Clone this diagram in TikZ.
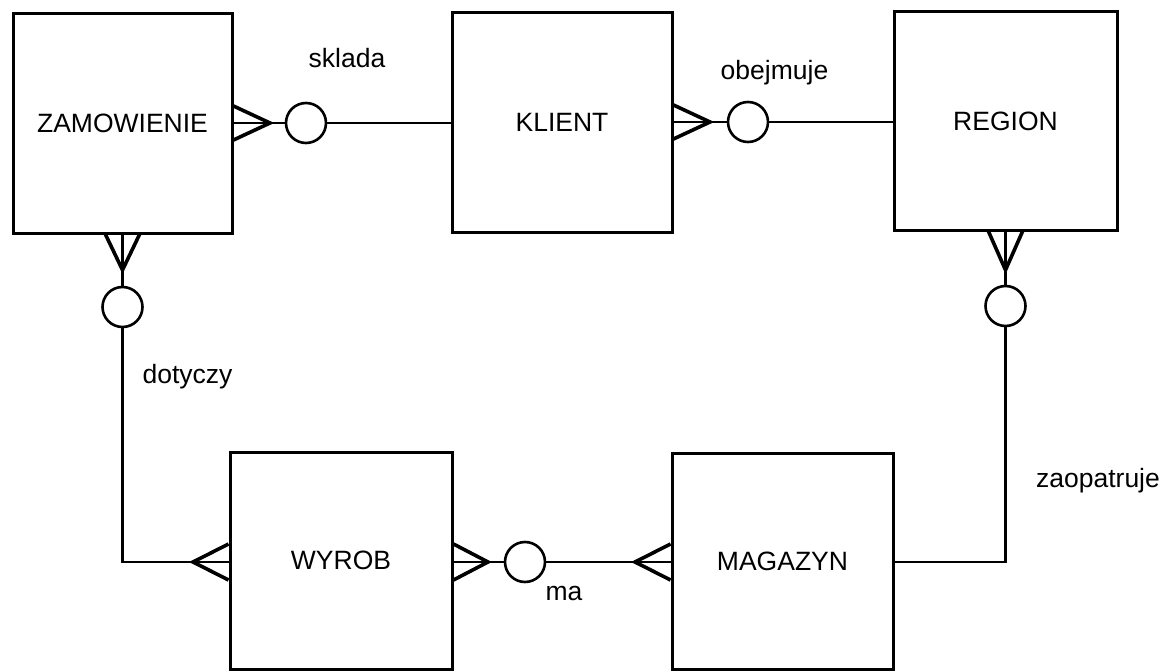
\documentclass[tikz,border=0pt]{standalone}
\usepackage{fontspec}
\setmainfont{Liberation Sans}
\usetikzlibrary{calc}
\begin{document}
\begin{tikzpicture}[x=1pt,y=-1pt,
 entity/.style={draw,line width=3pt,rectangle,inner sep=0pt,font=\fontsize{26.5}{30}\selectfont},
 rel/.style={draw,line width=2.6pt,circle,inner sep=0pt,minimum size=40pt},
 conn/.style={line width=2.5pt},
 foot/.style={line width=3.6pt,line join=miter},
 lbl/.style={anchor=base,inner sep=0pt,font=\fontsize{26.5}{30}\selectfont}]
\fill[white] (0,0) rectangle (1172,671);
\useasboundingbox (0,0) rectangle (1172,671);

% entities
\node[entity,minimum width=219pt,minimum height=219pt] (zam) at (122.5,123.5) {ZAMOWIENIE};
\node[entity,minimum width=220pt,minimum height=219pt] (kli) at (562,122.5) {KLIENT};
\node[entity,minimum width=223pt,minimum height=218pt] (reg) at (1005.5,121) {REGION};
\node[entity,minimum width=222pt,minimum height=217pt] (wyr) at (341,560.5) {WYROB};
\node[entity,minimum width=221pt,minimum height=216pt] (mag) at (782.5,561) {MAGAZYN};

% optionality circles
\node[rel] (c1) at (306,123) {};
\node[rel] (c2) at (748,122) {};
\node[rel] (c3) at (122.5,307) {};
\node[rel] (c4) at (1005.5,306) {};
\node[rel] (c5) at (525,562) {};

% crow's foot tips
\coordinate (t1) at (270,123);
\coordinate (t2) at (710,122);
\coordinate (t3) at (122.5,270);
\coordinate (t4) at (1005.5,270);
\coordinate (t5) at (193,562);
\coordinate (t6) at (488,562);
\coordinate (t7) at (635,562);

% sklada: ZAMOWIENIE -- KLIENT
\draw[foot] ($(zam.east|-t1)+(0,-17)$) -- (t1) -- ($(zam.east|-t1)+(0,17)$);
\draw[conn] (zam.east|-t1) -- (c1.west);
\draw[conn] (c1.east) -- (kli.west|-c1);

% obejmuje: KLIENT -- REGION
\draw[foot] ($(kli.east|-t2)+(0,-17)$) -- (t2) -- ($(kli.east|-t2)+(0,17)$);
\draw[conn] (kli.east|-t2) -- (c2.west);
\draw[conn] (c2.east) -- (reg.west|-c2);

% dotyczy: ZAMOWIENIE -- WYROB
\draw[foot] ($(zam.south-|t3)+(-17,0)$) -- (t3) -- ($(zam.south-|t3)+(17,0)$);
\draw[conn] (zam.south-|t3) -- (c3.north);
\draw[conn] (c3.south) |- (wyr.west|-t5);
\draw[foot] ($(wyr.west|-t5)+(0,-18)$) -- (t5) -- ($(wyr.west|-t5)+(0,18)$);

% zaopatruje: REGION -- MAGAZYN
\draw[foot] ($(reg.south-|t4)+(-17,0)$) -- (t4) -- ($(reg.south-|t4)+(17,0)$);
\draw[conn] (reg.south-|t4) -- (c4.north);
\draw[conn] (c4.south) |- (mag.east|-t7);

% ma: WYROB -- MAGAZYN
\draw[foot] ($(wyr.east|-t6)+(0,-18)$) -- (t6) -- ($(wyr.east|-t6)+(0,18)$);
\draw[conn] (wyr.east|-t6) -- (c5.west);
\draw[conn] (c5.east) -- (mag.west|-c5);
\draw[foot] ($(mag.west|-t7)+(0,-18)$) -- (t7) -- ($(mag.west|-t7)+(0,18)$);

% labels
\node[lbl] (l1) at (347,68) {sklada};
\node[lbl] (l2) at (774.5,80) {obejmuje};
\node[lbl] (l3) at (187.5,383) {dotyczy};
\node[lbl] (l4) at (1098,487) {zaopatruje};
\node[lbl] (l5) at (564,600) {ma};
\end{tikzpicture}
\end{document}
